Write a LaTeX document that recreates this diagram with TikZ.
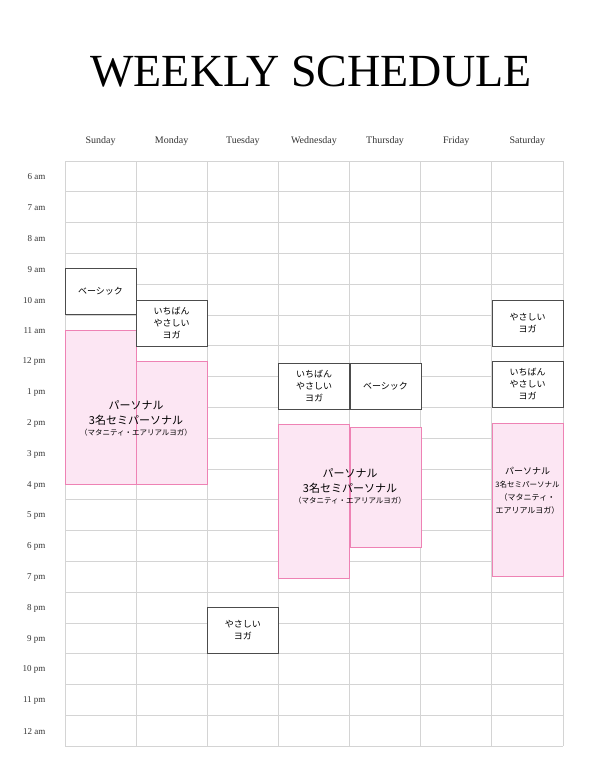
\documentclass[tikz,border=0pt]{standalone}
\usepackage{fontspec}
\setmainfont{Liberation Serif}
\newfontfamily\jp{Noto Sans CJK JP}
\definecolor{gridgray}{RGB}{212,212,212}
\definecolor{pinkfill}{RGB}{252,230,243}
\definecolor{pinkline}{RGB}{238,130,180}
\tikzset{
  class/.style={draw=black!70,line width=0.9pt,fill=white,inner sep=0pt,font=\jp\fontsize{9}{12}\selectfont,align=center},
  personal/.style={draw=pinkline,line width=0.7pt,fill=pinkfill,inner sep=0pt},
  ptext/.style={font=\jp\fontsize{11}{15}\selectfont,align=center},
  hour/.style={anchor=east,font=\fontsize{9}{10}\selectfont,text=black!80},
  day/.style={font=\fontsize{10}{12}\selectfont,text=black!80}
}
\begin{document}
\begin{tikzpicture}[x=1pt,y=-1pt]
    \useasboundingbox (0,0) rectangle (600,777);
    \node at (311,72) {\fontsize{46}{50}\selectfont WEEKLY SCHEDULE};
    % grid
    \foreach \i in {0,...,7}
        \draw[gridgray,line width=0.8pt] (65+71.14*\i,161) -- (65+71.14*\i,746);
    \foreach \r in {0,...,19}
        \draw[gridgray,line width=0.8pt] (65,161+30.8*\r) -- (563,161+30.8*\r);
    \foreach \d [count=\i from 0] in {Sunday,Monday,Tuesday,Wednesday,Thursday,Friday,Saturday}
        \node[day] (d\i) at (100.5+71.14*\i,141) {\d};
    \foreach \h [count=\r from 0] in {6 am,7 am,8 am,9 am,10 am,11 am,12 pm,1 pm,2 pm,3 pm,4 pm,5 pm,6 pm,7 pm,8 pm,9 pm,10 pm,11 pm,12 am}
        \node[hour] (h\r) at (49,177+30.8*\r) {\h};
    % personal sessions
    \node[personal,minimum width=71pt,minimum height=154pt] (sunp) at (100.5,407) {};
    \node[personal,minimum width=71pt,minimum height=123pt] (monp) at (171.6,423) {};
    \node[personal,minimum width=71pt,minimum height=154pt] (wedp) at (314,501) {};
    \node[personal,minimum width=71pt,minimum height=120pt] (thup) at (385.5,487) {};
    \node[personal,minimum width=71pt,minimum height=153pt] (satp) at (527.5,500) {};
    \node[ptext] (sunt) at (136,418) {パーソナル\\3名セミパーソナル\\[-4pt]{\fontsize{7.5}{9}\selectfont（マタニティ・エアリアルヨガ）}};
    \node[ptext] (wedt) at (350,486) {パーソナル\\3名セミパーソナル\\[-4pt]{\fontsize{7.5}{9}\selectfont（マタニティ・エアリアルヨガ）}};
    \node[ptext,font=\jp\fontsize{9}{13}\selectfont] (satt) at (527.5,491) {パーソナル\\{\fontsize{7.5}{9}\selectfont 3名セミパーソナル}\\{\fontsize{8}{12}\selectfont（マタニティ・}\\{\fontsize{8}{12}\selectfont エアリアルヨガ）}};
    % group classes
    \node[class,minimum width=71pt,minimum height=46pt] (sunb) at (100.5,291.5) {ベーシック};
    \node[class,minimum width=71pt,minimum height=46pt] (moni) at (171.6,323) {いちばん\\やさしい\\ヨガ};
    \node[class,minimum width=71pt,minimum height=46pt] (wedi) at (314,386) {いちばん\\やさしい\\ヨガ};
    \node[class,minimum width=71pt,minimum height=46pt] (thub) at (385.5,386) {ベーシック};
    \node[class,minimum width=71pt,minimum height=46pt] (saty) at (527.5,323) {やさしい\\ヨガ};
    \node[class,minimum width=71pt,minimum height=46pt] (sati) at (527.5,384) {いちばん\\やさしい\\ヨガ};
    \node[class,minimum width=71pt,minimum height=46pt] (tuey) at (242.8,630) {やさしい\\ヨガ};
\end{tikzpicture}
\end{document}
